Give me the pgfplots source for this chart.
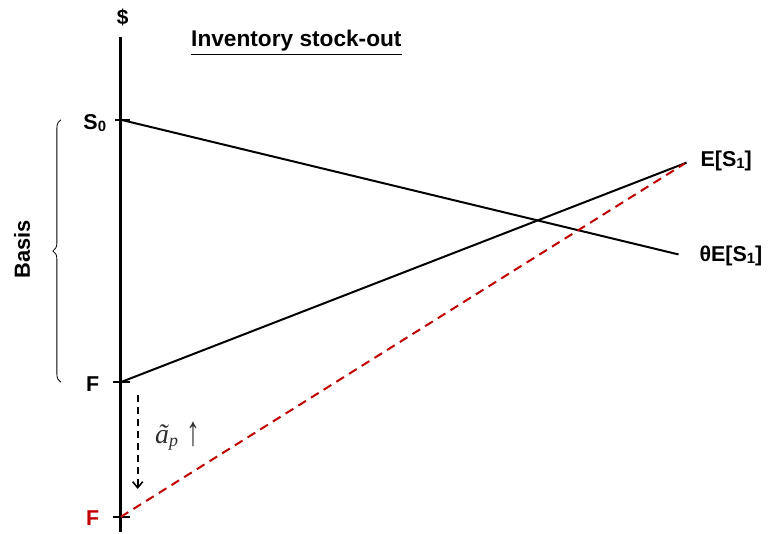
\documentclass[border=0pt]{standalone}
\usepackage{fontspec}
\setmainfont{Liberation Sans}
\newfontfamily\serifit{Liberation Serif}
\usepackage{pgfplots}
\pgfplotsset{compat=1.18}
\usetikzlibrary{decorations.pathreplacing,arrows.meta}
\definecolor{dred}{HTML}{C00000}
\definecolor{lblgray}{HTML}{303030}
\begin{document}
\begin{tikzpicture}
\begin{axis}[
    scale only axis,
    width=384.5bp, height=266.5bp,
    xmin=0, xmax=769, ymin=0, ymax=533,
    y dir=reverse,
    axis lines=none,
    clip=false,
]
\path (axis cs:0,0) rectangle (axis cs:769,533);
% vertical $ axis
\addplot[black, line width=1.5bp] coordinates {(121,37) (121,533)};
% ticks
\addplot[black, line width=1bp] coordinates {(115,120) (130,120)};
\addplot[black, line width=1bp] coordinates {(113,383) (130,383)};
\addplot[black, line width=1bp] coordinates {(113,518) (130,518)};
% theta E[S1] line
\addplot[black, line width=1bp] coordinates {(121,120) (680,255)};
% E[S1] line
\addplot[black, line width=1bp] coordinates {(121,383) (688,163)};
% shifted F line
\addplot[dred, line width=1bp, dash pattern=on 4.5bp off 3bp] coordinates {(121,518) (686,164)};
% downward arrow
\addplot[black, line width=0.8bp, dash pattern=on 3.5bp off 2.5bp, -{Straight Barb[length=3bp,width=5bp]}]
    coordinates {(138,396) (138,490)};

\draw[line width=0.4bp, decorate, decoration={brace, amplitude=4bp}]
    (axis cs:61,383) -- (axis cs:61,120);

\node[font=\bfseries\fontsize{10.5}{12}\selectfont] at (axis cs:123,18) {\$};
\node[font=\bfseries\fontsize{11.4}{13}\selectfont] at (axis cs:297,43) {\underline{Inventory stock-out}};
\node[font=\bfseries\fontsize{10.8}{12}\selectfont] at (axis cs:95,123) {S{\fontsize{7.5}{8}\selectfont\raisebox{-0.25ex}{0}}};
\node[font=\bfseries\fontsize{10.8}{12}\selectfont] at (axis cs:93,385) {F};
\node[font=\bfseries\fontsize{10.8}{12}\selectfont, text=dred] at (axis cs:93,519) {F};
\node[font=\bfseries\fontsize{10.8}{12}\selectfont, anchor=west] at (axis cs:695,161) {E[S{\fontsize{7.5}{8}\selectfont\raisebox{-0.3ex}{1}}]};
\node[font=\bfseries\fontsize{10.8}{12}\selectfont, anchor=west] at (axis cs:694,256) {θE[S{\fontsize{7.5}{8}\selectfont\raisebox{-0.3ex}{1}}]};
\node[font=\bfseries\fontsize{11}{12}\selectfont, rotate=90] at (axis cs:22,250) {Basis};
\node[text=lblgray, font=\serifit\fontsize{14}{16}\selectfont] at (axis cs:178,437)
    {\textit{ã}{\fontsize{9}{10}\selectfont\textit{\raisebox{-0.4ex}{p}}}\hspace{4bp}\raisebox{-0.15ex}{\scalebox{1}[1.5]{↑}}};
\end{axis}
\end{tikzpicture}
\end{document}
